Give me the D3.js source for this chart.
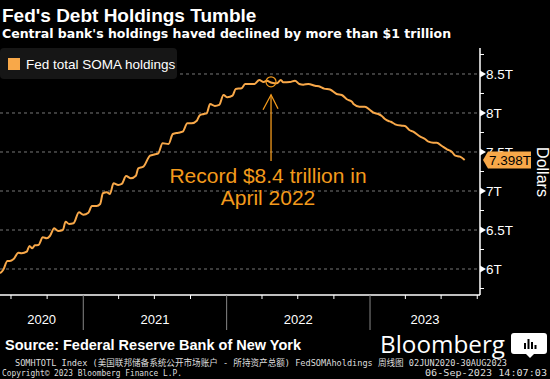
<!DOCTYPE html>
<html><head><meta charset="utf-8">
<script src="https://cdnjs.cloudflare.com/ajax/libs/d3/7.8.5/d3.min.js"></script>
<style>
html,body{margin:0;padding:0;background:#000;}
svg{display:block;}
</style></head>
<body>
<script>
// ---- data ----
const dates = ["2020-06-03","2020-06-11","2020-06-22","2020-06-28","2020-07-07","2020-07-20","2020-07-28","2020-08-10","2020-08-17","2020-08-24","2020-08-31","2020-09-09","2020-09-20","2020-09-30","2020-10-08","2020-10-19","2020-10-29","2020-11-10","2020-11-17","2020-11-26","2020-12-07","2020-12-21","2021-01-01","2021-01-14","2021-01-23","2021-02-04","2021-02-13","2021-02-20","2021-03-02","2021-03-10","2021-03-19","2021-03-31","2021-04-09","2021-04-20","2021-05-02","2021-05-15","2021-05-21","2021-06-03","2021-06-20","2021-07-03","2021-07-11","2021-07-22","2021-08-06","2021-08-17","2021-08-31","2021-09-11","2021-09-23","2021-10-04","2021-10-17","2021-10-25","2021-11-04","2021-11-11","2021-11-20","2021-12-02","2021-12-13","2021-12-24","2022-01-03","2022-01-16","2022-01-24","2022-02-08","2022-02-17","2022-03-13","2022-03-25","2022-04-05","2022-04-13","2022-04-26","2022-05-09","2022-05-19","2022-05-25","2022-06-11","2022-06-24","2022-07-05","2022-07-15","2022-07-28","2022-08-14","2022-08-27","2022-09-06","2022-09-21","2022-10-08","2022-10-21","2022-11-03","2022-11-16","2022-11-20","2022-12-05","2022-12-19","2023-01-01","2023-01-10","2023-01-22","2023-01-31","2023-02-08","2023-02-17","2023-02-23","2023-03-06","2023-03-23","2023-03-31","2023-04-11","2023-04-21","2023-05-09","2023-05-21","2023-05-30","2023-06-11","2023-06-20","2023-07-03","2023-07-16","2023-07-28","2023-08-06","2023-08-18","2023-08-30"];
const holdings = [5.945,5.987,6.103,6.103,6.124,6.209,6.201,6.222,6.295,6.265,6.304,6.308,6.406,6.394,6.423,6.522,6.487,6.500,6.606,6.577,6.586,6.727,6.696,6.722,6.808,6.808,6.833,6.971,6.983,6.962,7.099,7.077,7.090,7.192,7.163,7.196,7.291,7.312,7.453,7.471,7.483,7.612,7.603,7.731,7.747,7.760,7.868,7.868,7.901,7.974,7.987,7.996,8.115,8.090,8.103,8.231,8.201,8.222,8.308,8.317,8.372,8.372,8.423,8.397,8.414,8.388,8.381,8.423,8.394,8.397,8.414,8.372,8.363,8.372,8.350,8.337,8.312,8.301,8.244,8.231,8.176,8.145,8.115,8.081,8.081,8.038,8.004,7.987,7.962,7.923,7.897,7.888,7.855,7.837,7.833,7.782,7.760,7.696,7.667,7.632,7.619,7.619,7.577,7.535,7.504,7.453,7.440,7.398];
const yTicks = [6, 6.5, 7, 7.5, 8, 8.5];
const yTickLabels = ["6T","6.5T","7T","7.5T","8T","8.5T"];
const yearLabels = ["2020","2021","2022","2023"];
const lastLabel = "7.398T";
const recordDate = "2022-04-24";
const recordValue = 8.4;
const recordText = ["Record $8.4 trillion in", "April 2022"];
const seriesName = "Fed total SOMA holdings";

const W = 550, H = 379;
const parse = d3.timeParse("%Y-%m-%d");
const data = dates.map((d, i) => ({date: parse(d), value: holdings[i]}));

const svg = d3.select("body").append("svg").attr("width", W).attr("height", H)
  .style("background", "#000");

const plot = {left: 0, right: 480, top: 48, bottom: 295};
const x = d3.scaleTime()
  .domain([new Date(2020, 5, 3), new Date(2023, 9, 8)])
  .range([plot.left, plot.right]);
const y = d3.scaleLinear().domain([5.6667, 8.8333]).range([plot.bottom, plot.top]);

const orange = "#f8a849";
const annoOrange = "#f39a1c";
const sans = "'Liberation Sans', Arial, sans-serif";

// Title
svg.append("text").attr("x", 2).attr("y", 22).text("Fed's Debt Holdings Tumble")
  .attr("fill", "#fff").attr("font-family", sans).attr("font-weight", "bold")
  .attr("font-size", 19);
svg.append("text").attr("x", 2).attr("y", 38).text("Central bank's holdings haved declined by more than $1 trillion")
  .attr("fill", "#fff").attr("font-family", "'DejaVu Sans', sans-serif").attr("font-weight", "bold")
  .attr("font-size", 12.5);

// gridlines
svg.append("g").selectAll("line").data(yTicks).join("line")
  .attr("x1", plot.left).attr("x2", plot.right)
  .attr("y1", d => y(d)).attr("y2", d => y(d))
  .attr("stroke", "#777").attr("stroke-width", 1).attr("stroke-dasharray", "3,3");

// Legend
svg.append("rect").attr("x", 0).attr("y", 48).attr("width", 177).attr("height", 31).attr("rx", 4)
  .attr("fill", "#161616");
svg.append("rect").attr("x", 8).attr("y", 58).attr("width", 12).attr("height", 12).attr("fill", orange);
svg.append("text").attr("x", 26).attr("y", 69).text(seriesName)
  .attr("fill", "#fff").attr("font-family", sans).attr("font-size", 13.5);

// x axis
const xg = svg.append("g");
xg.append("line").attr("x1", plot.left).attr("x2", plot.right).attr("y1", plot.bottom).attr("y2", plot.bottom)
  .attr("stroke", "#fff").attr("stroke-width", 1.5);
const qTicks = x.ticks(d3.timeMonth.every(3)).filter(d => x(d) >= 0 && x(d) <= plot.right);
xg.selectAll("line.q").data(qTicks.filter(d => d.getMonth() !== 0)).join("line").attr("class", "q")
  .attr("x1", d => x(d)).attr("x2", d => x(d)).attr("y1", plot.bottom).attr("y2", plot.bottom + 4)
  .attr("stroke", "#fff");
const yearStarts = qTicks.filter(d => d.getMonth() === 0);
xg.selectAll("line.y").data(yearStarts).join("line").attr("class", "y")
  .attr("x1", d => x(d)).attr("x2", d => x(d)).attr("y1", plot.bottom).attr("y2", plot.bottom + 35)
  .attr("stroke", "#888").attr("stroke-width", 1);
const bounds = [x.domain()[0], ...yearStarts, x.domain()[1]];
xg.selectAll("text").data(yearLabels).join("text")
  .attr("x", (d, i) => (x(bounds[i]) + x(bounds[i + 1])) / 2)
  .attr("y", 324).attr("text-anchor", "middle").text(d => d)
  .attr("fill", "#fff").attr("font-family", sans).attr("font-size", 13);

// y axis (right)
const yg = svg.append("g");
yg.append("line").attr("x1", plot.right).attr("x2", plot.right).attr("y1", plot.top).attr("y2", plot.bottom)
  .attr("stroke", "#fff").attr("stroke-width", 1.5);
const minor = d3.range(5.75, 8.84, 0.25).filter(v => !yTicks.includes(v));
yg.selectAll("line.m").data(minor).join("line").attr("class", "m")
  .attr("x1", plot.right).attr("x2", plot.right + 4).attr("y1", d => y(d)).attr("y2", d => y(d))
  .attr("stroke", "#fff");
yg.selectAll("path.tri").data(yTicks).join("path").attr("class", "tri")
  .attr("d", d => `M${plot.right},${y(d) - 3.5}L${plot.right + 6},${y(d)}L${plot.right},${y(d) + 3.5}Z`)
  .attr("fill", "#fff");
yg.selectAll("text").data(yTicks).join("text")
  .attr("x", plot.right + 6).attr("y", d => y(d) + 5).text((d, i) => yTickLabels[i])
  .attr("fill", "#fff").attr("font-family", sans).attr("font-size", 13.5);

svg.append("text").attr("transform", `translate(537,172) rotate(90)`).attr("text-anchor", "middle")
  .text("Dollars").attr("fill", "#fff").attr("font-family", sans).attr("font-size", 16);

// line
const line = d3.line().x(d => x(d.date)).y(d => y(d.value)).curve(d3.curveMonotoneX);
svg.append("path").datum(data).attr("d", line).attr("fill", "none")
  .attr("stroke", orange).attr("stroke-width", 2).attr("stroke-linejoin", "round");

// last value label
const last = data[data.length - 1];
const ly = y(last.value);
svg.append("path")
  .attr("d", `M483,${ly}L488,${ly - 8.5}L531,${ly - 8.5}L531,${ly + 8.5}L488,${ly + 8.5}Z`)
  .attr("fill", orange);
svg.append("text").attr("x", 489).attr("y", ly + 5).text(lastLabel)
  .attr("fill", "#000").attr("font-family", sans).attr("font-size", 13.5);

// annotation
const rx = x(parse(recordDate)), ry = y(recordValue);
svg.append("circle").attr("cx", rx).attr("cy", ry).attr("r", 5)
  .attr("fill", "none").attr("stroke", annoOrange).attr("stroke-width", 1.2);
svg.append("line").attr("x1", rx).attr("x2", rx).attr("y1", ry + 13).attr("y2", 161)
  .attr("stroke", annoOrange).attr("stroke-width", 1.3);
svg.append("path").attr("d", `M${rx - 8},${ry + 28}L${rx},${ry + 13}L${rx + 7},${ry + 27}`)
  .attr("fill", "none").attr("stroke", annoOrange).attr("stroke-width", 1.3);
svg.append("text").attr("x", rx - 3).attr("y", 183).attr("text-anchor", "middle").text(recordText[0])
  .attr("fill", annoOrange).attr("font-family", sans).attr("font-size", 21);
svg.append("text").attr("x", rx - 3).attr("y", 205).attr("text-anchor", "middle").text(recordText[1])
  .attr("fill", annoOrange).attr("font-family", sans).attr("font-size", 21);

// source / branding
svg.append("text").attr("x", 5).attr("y", 350).text("Source: Federal Reserve Bank of New York")
  .attr("fill", "#fff").attr("font-family", sans).attr("font-weight", "bold")
  .attr("font-size", 14.5);
svg.append("text").attr("x", 380).attr("y", 353).text("Bloomberg")
  .attr("fill", "#fff").attr("font-family", "'Open Sans', sans-serif").attr("font-size", 23).attr("font-weight", 500)
  .attr("textLength", 125).attr("lengthAdjust", "spacingAndGlyphs");
// logo
svg.append("path").attr("d", "M514,333h30a3,3 0 0 1 3,3v15a3,3 0 0 1 -3,3h-10l-4,4l-4,-4h-12a3,3 0 0 1 -3,-3v-15a3,3 0 0 1 3,-3z")
  .attr("fill", "#fff");
[[524,343,2,6],[527.5,339,2,10],[531,342,2,7],[534.5,345,2,4]].forEach(r =>
  svg.append("rect").attr("x", r[0]).attr("y", r[1]).attr("width", r[2]).attr("height", r[3]).attr("fill", "#000"));

// footer
const mono = "'DejaVu Sans Mono', 'Liberation Mono', 'Noto Sans CJK SC', monospace";
svg.append("text").attr("x", 15).attr("y", 366)
  .text("SOMHTOTL Index (美国联邦储备系统公开市场账户 - 所持资产总额) FedSOMAholdings  周线图 02JUN2020-30AUG2023")
  .attr("fill", "#ddd").attr("font-family", mono).attr("font-size", 9)
  .attr("textLength", 492).attr("lengthAdjust", "spacingAndGlyphs");
svg.append("text").attr("x", 2).attr("y", 376).text("Copyright© 2023 Bloomberg Finance L.P.")
  .attr("fill", "#ddd").attr("font-family", mono).attr("font-size", 9)
  .attr("textLength", 180).attr("lengthAdjust", "spacingAndGlyphs");
svg.append("text").attr("x", 547).attr("y", 376).attr("text-anchor", "end").text("06-Sep-2023 14:07:03")
  .attr("fill", "#ddd").attr("font-family", mono).attr("font-size", 9)
  .attr("textLength", 122).attr("lengthAdjust", "spacingAndGlyphs");
</script>
</body></html>
